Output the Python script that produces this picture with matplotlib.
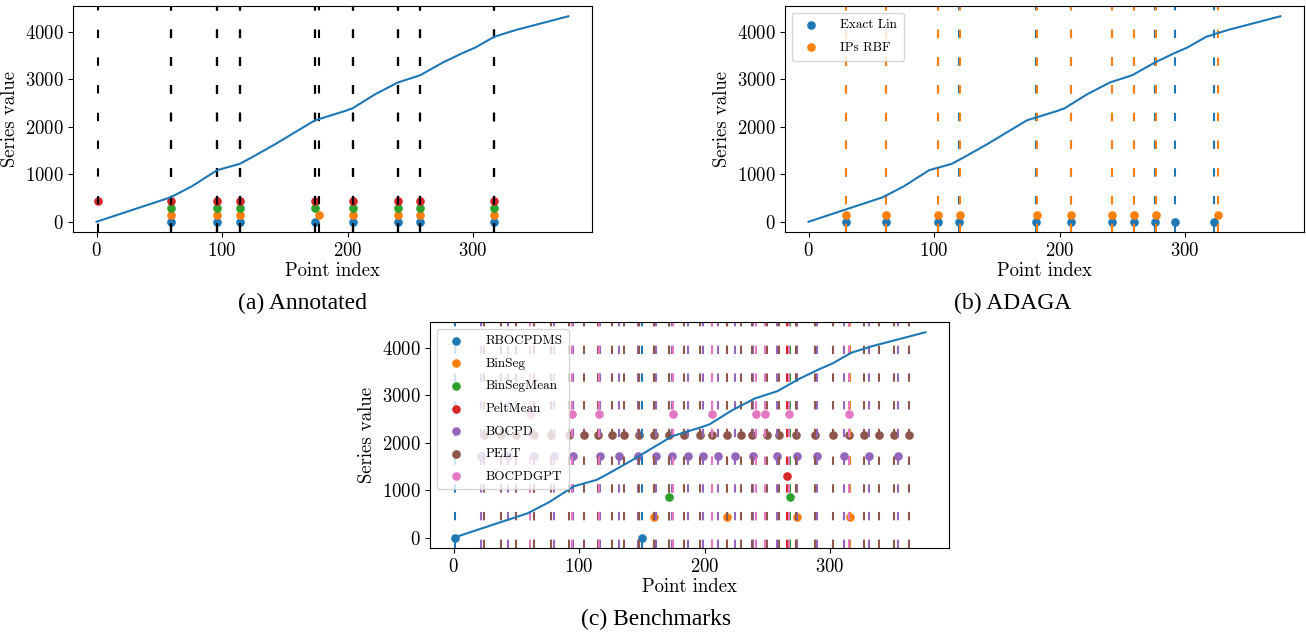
import matplotlib.pyplot as plt

plt.rcParams['font.family'] = 'cmr10'
plt.rcParams['axes.formatter.use_mathtext'] = True
plt.rcParams['mathtext.fontset'] = 'cm'

# --- series ---
series_x = [0, 59, 76, 96, 114, 123, 142, 174, 198, 204, 222, 240, 258, 276, 291, 302, 317, 334, 376]
series_y = [0, 515, 748, 1086, 1220, 1347, 1630, 2138, 2335, 2392, 2688, 2935, 3090, 3358, 3548, 3675, 3901, 4042, 4332]

# --- (a) annotated change points, one list per annotator ---
annot_1 = [59, 96, 114, 174, 204, 240, 258, 317]
annot_2 = [59, 96, 114, 177, 204, 240, 258, 317]
annot_3 = [59, 96, 114, 174, 204, 240, 258, 317]
annot_4 = [1, 59, 96, 114, 174, 204, 240, 258, 317]
annot_levels = [0, 145, 290, 435]

# --- (b) ADAGA ---
adaga_labels = ["Exact Lin", "IPs RBF"]
exact_lin = [30, 62, 103, 120, 181, 209, 242, 259, 276, 292, 323]
ips_rbf = [30, 62, 103, 121, 182, 209, 242, 259, 277, 326]
adaga_levels = [0, 145]

# --- (c) benchmarks ---
bench_labels = ["RBOCPDMS", "BinSeg", "BinSegMean", "PeltMean", "BOCPD", "PELT", "BOCPDGPT"]
rbocpdms = [1, 150]
binseg = [160, 218, 274, 316]
binsegmean = [172, 268]
peltmean = [266]
bocpd = [22, 43, 64, 80, 95, 117, 132, 147, 161, 174, 187, 199, 211, 224, 239, 258, 274, 290, 311, 331, 354]
pelt = [24, 38, 50, 64, 78, 92, 104, 115, 126, 136, 148, 160, 172, 184, 196, 206, 218, 229, 238, 250,
        259, 273, 288, 302, 315, 327, 339, 351, 363]
bocpdgpt = [61, 94, 116, 175, 206, 241, 248, 267, 315]
bench_levels = [0, 433, 866, 1300, 1733, 2166, 2600]

DASH = (0, (4.0, 9.3))

fig = plt.figure(figsize=(13.06, 6.34), dpi=100)


def draw_panel(rect, cps, levels, line_colors, labels=None):
    ax = fig.add_axes(rect)
    ax.plot(series_x, series_y, color='C0', lw=1.5, zorder=3)
    for i, pts in enumerate(cps):
        lab = labels[i] if labels else None
        ax.scatter(pts, [levels[i]] * len(pts), s=27, color=f'C{i}', label=lab)
        for x in pts:
            ax.axvline(x, color=line_colors[i], lw=1.5, ls=DASH)
    ax.set_xticks([0, 100, 200, 300])
    ax.set_yticks([0, 1000, 2000, 3000, 4000])
    ax.tick_params(labelsize=13.5)
    ax.set_xlabel("Point index", fontsize=13.5, labelpad=2)
    ax.set_ylabel("Series value", fontsize=13.5)
    if labels:
        ax.legend(loc='upper left', fontsize=9.5, labelspacing=0.78,
                  handletextpad=1.2, borderpad=0.5)
    return ax


W, H = 1306, 634
aw, ah = 519 / W, 226 / H

draw_panel([73 / W, 1 - 232 / H, aw, ah], [annot_1, annot_2, annot_3, annot_4],
           annot_levels, ['black'] * 4)
draw_panel([785 / W, 1 - 232 / H, aw, ah], [exact_lin, ips_rbf],
           adaga_levels, ['C0', 'C1'], adaga_labels)
draw_panel([430 / W, 1 - 548 / H, aw, ah],
           [rbocpdms, binseg, binsegmean, peltmean, bocpd, pelt, bocpdgpt],
           bench_levels, [f'C{i}' for i in range(7)], bench_labels)

cap = dict(family='Liberation Serif', fontsize=17, ha='center', va='center')
fig.text(302 / W, 1 - 303 / H, "(a) Annotated", **cap)
fig.text(1013 / W, 1 - 303 / H, "(b) ADAGA", **cap)
fig.text(656 / W, 1 - 619 / H, "(c) Benchmarks", **cap)

fig.savefig("out.png", dpi=100)
